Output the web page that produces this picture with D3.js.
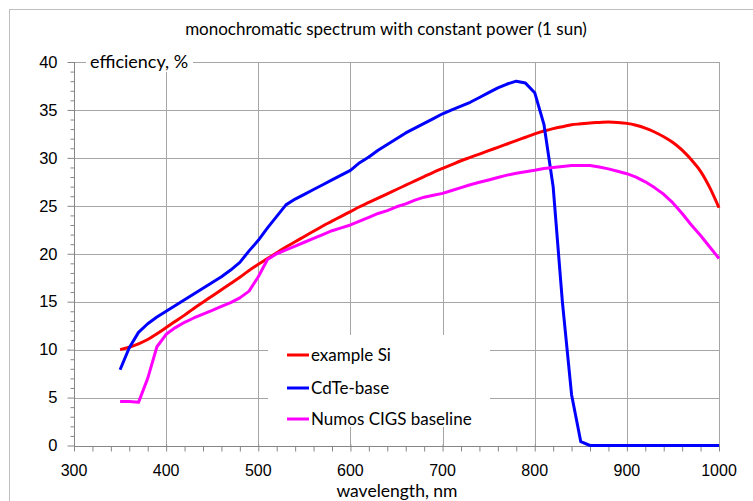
<!DOCTYPE html>
<html>
<head>
<meta charset="utf-8">
<script src="https://cdn.jsdelivr.net/npm/d3@7"></script>
<style>
  body { margin: 0; background: #fff; }
  svg { display: block; font-family: Lato, "Open Sans", sans-serif; }
</style>
</head>
<body>
<svg id="chart" width="753" height="501"></svg>
<script>
// wavelength grid, nm
var wl = d3.range(350, 1001, 10);

// efficiency, %
var siEff = [10.0, 10.25, 10.6, 11.05, 11.65, 12.3, 12.95, 13.6, 14.3, 14.95,
  15.6, 16.25, 16.9, 17.55, 18.25, 18.9, 19.5, 20.1, 20.7, 21.25,
  21.8, 22.35, 22.9, 23.4, 23.9, 24.4, 24.9, 25.35, 25.8, 26.25,
  26.7, 27.15, 27.6, 28.05, 28.5, 28.9, 29.3, 29.7, 30.05, 30.4,
  30.75, 31.1, 31.45, 31.8, 32.15, 32.5, 32.8, 33.05, 33.25, 33.45,
  33.55, 33.65, 33.7, 33.75, 33.7, 33.6, 33.4, 33.1, 32.7, 32.2,
  31.6, 30.8, 29.8, 28.6, 26.9, 24.8];

var cdteEff = [7.9, 10.2, 11.8, 12.7, 13.4, 14.0, 14.6, 15.2, 15.8, 16.4,
  17.0, 17.6, 18.3, 19.1, 20.3, 21.4, 22.7, 23.9, 25.1, 25.7,
  26.2, 26.7, 27.2, 27.7, 28.2, 28.7, 29.5, 30.1, 30.8, 31.4,
  32.0, 32.6, 33.1, 33.6, 34.1, 34.6, 35.0, 35.4, 35.8, 36.3,
  36.8, 37.3, 37.7, 38.0, 37.8, 36.8, 33.5, 27.0, 15.0, 5.3,
  0.4, 0, 0, 0, 0, 0, 0, 0, 0, 0,
  0, 0, 0, 0, 0, 0];

var cigsEff = [4.6, 4.6, 4.5, 7.0, 10.3, 11.6, 12.3, 12.85, 13.3, 13.7,
  14.1, 14.5, 14.9, 15.4, 16.1, 17.6, 19.4, 20.0, 20.4, 20.8,
  21.2, 21.6, 22.0, 22.4, 22.7, 23.0, 23.4, 23.8, 24.2, 24.5,
  24.9, 25.2, 25.6, 25.9, 26.1, 26.3, 26.6, 26.9, 27.2, 27.45,
  27.7, 27.95, 28.2, 28.4, 28.55, 28.7, 28.9, 29.0, 29.1, 29.2,
  29.2, 29.2, 29.05, 28.85, 28.6, 28.35, 28.0, 27.5, 26.9, 26.2,
  25.3, 24.2, 23.0, 21.9, 20.7, 19.5];

var seriesNames = ['example Si', 'CdTe-base', 'Numos CIGS baseline'];
var seriesColors = ['#ff0000', '#0000ff', '#ff00ff'];

var xTicks = d3.range(300, 1001, 100);
var yTicks = d3.range(0, 41, 5);

var svg = d3.select('#chart');

// outer chart border
svg.append('rect')
  .attr('x', 9.5).attr('y', 9.5)
  .attr('width', 800).attr('height', 600)
  .attr('fill', '#fff').attr('stroke', '#bfbfbf');

var plot = { left: 74, right: 719, top: 62, bottom: 445.5 };

var x = d3.scaleLinear().domain([300, 1000]).range([plot.left, plot.right]);
var y = d3.scaleLinear().domain([0, 40]).range([plot.bottom, plot.top]);

// grid
var grid = svg.append('g').attr('stroke', '#a6a6a6').attr('stroke-width', 1);
grid.selectAll('.hg').data(yTicks.slice(1)).enter().append('line')
  .attr('x1', plot.left).attr('x2', plot.right)
  .attr('y1', function(d){ return Math.round(y(d)) + 0.5; })
  .attr('y2', function(d){ return Math.round(y(d)) + 0.5; });
grid.selectAll('.vg').data(xTicks.slice(1)).enter().append('line')
  .attr('y1', plot.top).attr('y2', plot.bottom)
  .attr('x1', function(d){ return Math.round(x(d)) + 0.5; })
  .attr('x2', function(d){ return Math.round(x(d)) + 0.5; });

// axes
var xAxis = svg.append('g')
  .attr('transform', 'translate(0,' + (Math.round(plot.bottom) + 0.5) + ')');
xAxis.call(d3.axisBottom(x).tickValues(d3.range(300, 1001, 20))
  .tickSize(5).tickFormat(''));
xAxis.selectAll('.tick line')
  .attr('y1', function(d){ return d % 100 === 0 ? -2 : 0; })
  .attr('stroke', '#868686');
xAxis.select('.domain').attr('stroke', '#868686').attr('d', 'M' + plot.left + ',0H' + plot.right);
xAxis.selectAll('.lbl').data(xTicks).enter().append('text')
  .attr('x', function(d){ return x(d); })
  .attr('y', 29.5)
  .attr('text-anchor', 'middle')
  .attr('font-size', 16)
  .attr('fill', '#000')
  .text(function(d){ return d; });

var yAxis = svg.append('g')
  .attr('transform', 'translate(' + (plot.left + 0.5) + ',0)');
yAxis.call(d3.axisLeft(y).tickValues(d3.range(0, 41, 1))
  .tickSize(4).tickFormat(''));
yAxis.selectAll('.tick line')
  .attr('x2', function(d){ return d % 5 === 0 ? -7 : -4; })
  .attr('stroke', '#868686');
yAxis.select('.domain').attr('stroke', '#868686').attr('d', 'M0,' + plot.top + 'V' + plot.bottom);
yAxis.selectAll('.lbl').data(yTicks).enter().append('text')
  .attr('x', -17)
  .attr('y', function(d){ return y(d); })
  .attr('dy', '0.35em')
  .attr('text-anchor', 'end')
  .attr('font-size', 16.5)
  .attr('fill', '#000')
  .text(function(d){ return d; });

// series
var series = [siEff, cdteEff, cigsEff];
var curves = [d3.curveMonotoneX, d3.curveLinear, d3.curveLinear];
var lines = svg.append('g');
series.forEach(function(vals, i){
  var line = d3.line()
    .x(function(d, j){ return x(wl[j]); })
    .y(function(d){ return y(d); })
    .curve(curves[i]);
  lines.append('path')
    .datum(vals)
    .attr('d', line)
    .attr('fill', 'none')
    .attr('stroke', seriesColors[i])
    .attr('stroke-width', 3)
    .attr('stroke-linejoin', 'round');
});

// title and axis titles
svg.append('text')
  .attr('x', 386).attr('y', 35)
  .attr('text-anchor', 'middle')
  .attr('font-size', 17)
  .text('monochromatic spectrum with constant power (1 sun)');

var yTitle = svg.append('g');
yTitle.append('rect')
  .attr('x', 86).attr('y', 52).attr('width', 107).attr('height', 20)
  .attr('fill', '#fff');
yTitle.append('text')
  .attr('x', 90).attr('y', 68)
  .attr('font-size', 18)
  .text('efficiency, %');

svg.append('text')
  .attr('x', 397).attr('y', 497)
  .attr('text-anchor', 'middle')
  .attr('font-size', 17.5)
  .text('wavelength, nm');

// legend
var legend = svg.append('g');
legend.append('rect')
  .attr('x', 268).attr('y', 335).attr('width', 222).attr('height', 92)
  .attr('fill', '#fff');
var rowY = [355, 388, 419];
var items = legend.selectAll('.item').data(seriesNames).enter().append('g')
  .attr('transform', function(d, i){ return 'translate(287,' + rowY[i] + ')'; });
items.append('line')
  .attr('x1', 0).attr('x2', 22)
  .attr('stroke', function(d, i){ return seriesColors[i]; })
  .attr('stroke-width', 3);
items.append('text')
  .attr('x', 24).attr('dy', '0.35em')
  .attr('font-size', 17)
  .text(function(d){ return d; });
</script>
</body>
</html>
